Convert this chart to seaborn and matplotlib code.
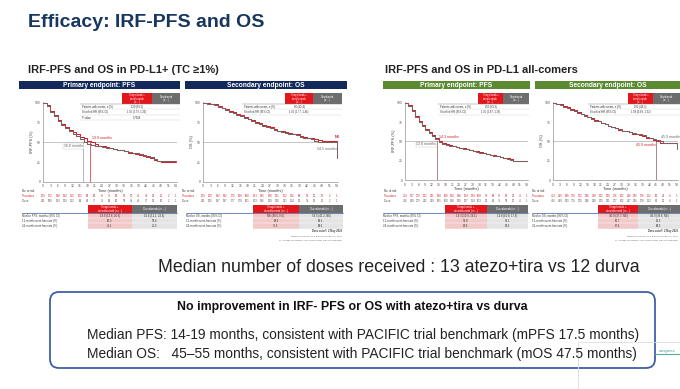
import numpy as np
import pandas as pd
import seaborn as sns
import matplotlib.pyplot as plt
from matplotlib.patches import Rectangle, FancyBboxPatch

sns.set_theme(style="white")
plt.rcParams["font.family"] = ["Liberation Sans", "DejaVu Sans"]
NARROW = ["Liberation Sans Narrow", "Liberation Sans", "DejaVu Sans"]

# KM estimates, every 1.5 months from 0 to 54
months = np.arange(0, 54.1, 1.5)
risk_months = np.arange(0, 55, 3)

l1_pfs_tira = [100, 97, 90, 84, 78, 73, 69, 66, 63, 60, 57, 55, 52, 50.5, 48, 46, 45, 44, 43,
               42, 41, 40, 39, 37, 36, 35, 34, 33, 32, 30, 28, 26, 25, 25, 25, 25, 25]
l1_pfs_durva = [100, 96, 89, 83, 77, 72, 68, 64, 61, 58, 54, 50.5, 48, 47, 46, 45, 44, 43, 42.5,
                42, 41, 40, 39, 38, 37, 36, 35, 34, 33, 31, 29, 27, 26, 26, 26, 26, 26]
l1_os_tira = [100, 100, 99, 98, 96, 94, 92, 90, 88, 86, 84, 82, 80, 78, 76, 74, 72, 71, 69,
              67, 65, 64, 63, 62, 61, 60, 58, 57, 56, 55, 54, 53, 52, 52, 52, 52, 52]
l1_os_durva = [100, 99, 98, 97, 95, 93, 91, 89, 87, 85, 83, 81, 79, 77, 75, 73, 71, 70, 68,
               66, 64, 63, 62, 61, 60, 59, 57, 56, 55, 54, 52, 51, 50, 50, 50, 50, 30]
all_pfs_tira = [100, 97, 90, 83, 76, 71, 66, 62, 58, 54.5, 50.5, 48, 46, 45, 44, 43, 42, 41, 40,
                39, 38, 37, 36, 35, 34, 33, 32, 31, 30, 29, 28, 27, 25, 25, 25, 25, 25]
all_pfs_durva = [100, 96, 89, 82, 75, 70, 65, 61, 57, 53, 49.5, 47, 45.5, 44.5, 43.5, 42.5, 41.5,
                 40.5, 39.5, 38.5, 37.5, 36.5, 35.5, 34.5, 33.5, 32.5, 31.5, 30.5, 29.5, 28, 27,
                 26, 25, 24, 24, 24, 24]
all_os_tira = [100, 99, 98, 96, 94, 92, 90, 88, 86, 84, 82, 80, 78, 76, 74, 72, 70, 68, 67,
               65, 64, 63, 62, 60, 59, 58, 57, 55, 54, 52, 50, 48, 48, 48, 47.5, 47.5, 47.5]
all_os_durva = [100, 99, 97, 95, 93, 91, 89, 87, 85, 83, 81, 79, 77, 76, 74, 72, 70, 69, 67,
                66, 64, 63, 62, 61, 60, 59, 58, 56, 55, 53, 52, 51, 48, 48, 48, 48, 40]

# medians (months): tira+atezo, durva
l1_pfs_medians = [19.3, 16.1]
l1_os_medians = [None, 54.5]
all_pfs_medians = [14.3, 14.3]
all_os_medians = [45.0, 45.0]

# numbers at risk (every 3 months)
l1_pfs_risk_tira = [203, 172, 146, 134, 119, 102, 88, 80, 76, 70, 62, 56, 50, 46, 40, 32, 11, 2, 1]
l1_pfs_risk_durva = [211, 180, 143, 129, 112, 96, 84, 77, 73, 68, 60, 53, 48, 44, 37, 29, 10, 2, 1]
l1_os_risk_tira = [203, 200, 192, 182, 175, 168, 160, 151, 145, 138, 131, 122, 116, 88, 56, 30, 12, 2, 1]
l1_os_risk_durva = [211, 206, 197, 187, 177, 170, 161, 153, 146, 139, 130, 121, 114, 86, 55, 29, 11, 2, 1]
all_pfs_risk_tira = [413, 357, 279, 251, 221, 190, 169, 156, 146, 134, 120, 108, 97, 88, 76, 61, 22, 4, 1]
all_pfs_risk_durva = [416, 349, 273, 242, 210, 181, 160, 148, 139, 127, 114, 103, 92, 84, 72, 58, 20, 4, 1]
all_os_risk_tira = [413, 405, 389, 370, 352, 336, 318, 302, 289, 276, 262, 246, 233, 176, 112, 60, 24, 4, 1]
all_os_risk_durva = [416, 409, 393, 374, 355, 338, 320, 305, 291, 277, 262, 247, 234, 178, 113, 61, 25, 4, 1]

RED = "#d42027"
GREY = "#7d5f5f"
NAVY = "#13295b"
GREEN = "#5b8a33"
W, H = 680, 389

fig = plt.figure(figsize=(W / 100, H / 100), dpi=100)
fig.patch.set_facecolor("white")


def frac(x0, y0, x1, y1):
    return [x0 / W, 1 - y1 / H, (x1 - x0) / W, (y1 - y0) / H]


def km_panel(rect, tira, durva, ylabel, medians):
    ax = fig.add_axes(frac(*rect))
    df = pd.DataFrame({
        "Time (months)": np.tile(months, 2),
        "surv": np.r_[tira, durva],
        "arm": ["Tira+atezo"] * len(months) + ["Durva"] * len(months),
    })
    ax.axhline(50, color="#999999", lw=0.4, zorder=1)
    for m, c in zip(medians, [RED, "#999999"]):
        if m is not None:
            ax.plot([m, m], [0, 50], color=c, lw=0.5, zorder=1)
    sns.lineplot(data=df, x="Time (months)", y="surv", hue="arm",
                 palette={"Tira+atezo": RED, "Durva": GREY}, drawstyle="steps-post",
                 lw=0.75, legend=False, estimator=None, ax=ax, zorder=3)
    ax.set_xlim(0, 54.5)
    ax.set_ylim(0, 101)
    ax.set_xticks(risk_months)
    ax.set_yticks([0, 25, 50, 75, 100])
    ax.tick_params(labelsize=2.4, length=1, width=0.3, pad=0.8, colors="#555555")
    ax.set_xlabel("Time (months)", fontsize=2.8, labelpad=0.5, color="#333333")
    ax.set_ylabel(ylabel, fontsize=2.8, labelpad=0.5, color="#333333")
    for s in ["top", "right"]:
        ax.spines[s].set_visible(False)
    for s in ["left", "bottom"]:
        ax.spines[s].set_linewidth(0.4)
        ax.spines[s].set_color("#777777")
    return ax


ax1 = km_panel((43, 102, 177, 182), l1_pfs_tira, l1_pfs_durva, "IRF-PFS (%)", l1_pfs_medians)
ax1.text(20, 54, "19.9 months", color=RED, fontsize=2.6)
ax1.text(8.5, 44, "16.6 months", color="#666666", fontsize=2.6,
         bbox=dict(fc="white", ec="#aaaaaa", lw=0.2, pad=0.4))
ax2 = km_panel((203, 102, 338, 182), l1_os_tira, l1_os_durva, "OS (%)", l1_os_medians)
ax2.text(53, 55, "NE", color=RED, fontsize=2.8, weight="bold")
ax2.text(46, 41, "54.5 months", color="#666666", fontsize=2.6)
ax3 = km_panel((405, 102, 528, 180), all_pfs_tira, all_pfs_durva, "IRF-PFS (%)", all_pfs_medians)
ax3.text(15, 55, "14.3 months", color=RED, fontsize=2.6)
ax3.text(5, 45, "13.8 months", color="#666666", fontsize=2.6,
         bbox=dict(fc="white", ec="#aaaaaa", lw=0.2, pad=0.4))
ax4 = km_panel((553, 102, 678, 180), all_os_tira, all_os_durva, "OS (%)", all_os_medians)
ax4.text(47, 55, "45.9 months", color="#666666", fontsize=2.6)
ax4.text(36, 44, "45.0 months", color=RED, fontsize=2.6)

# overlay in pixel coordinates for slide furniture
ov = fig.add_axes([0, 0, 1, 1], zorder=5)
ov.set_xlim(0, W)
ov.set_ylim(H, 0)
ov.axis("off")
ov.patch.set_alpha(0)

ov.text(28, 22, "Efficacy: IRF-PFS and OS", fontsize=14, weight="bold",
        color="#17375e", family=NARROW, va="center")
ov.text(28, 70, "IRF-PFS and OS in PD-L1+ (TC \u22651%)", fontsize=8, weight="bold",
        color="#222222", family=NARROW, va="center")
ov.text(385, 70, "IRF-PFS and OS in PD-L1 all-comers", fontsize=8, weight="bold",
        color="#222222", family=NARROW, va="center")

headers = [(19, 180, NAVY, "Primary endpoint: PFS"), (185, 347, NAVY, "Secondary endpoint: OS"),
           (383, 530, GREEN, "Primary endpoint: PFS"), (535, 684, GREEN, "Secondary endpoint: OS")]
for x0, x1, c, t in headers:
    ov.add_patch(Rectangle((x0, 81), x1 - x0, 8, fc=c, ec="none"))
    ov.text((x0 + min(x1, W)) / 2, 85, t, color="white", fontsize=4.8, weight="bold",
            ha="center", va="center")


def hr_table(x_left, xr0, xmid, xr1, rows, vals):
    ov.add_patch(Rectangle((xr0, 93), xmid - xr0, 11, fc="#e3161c", ec="none"))
    ov.add_patch(Rectangle((xmid, 93), xr1 - xmid, 11, fc="#6d6d6d", ec="none"))
    ov.text((xr0 + xmid) / 2, 98.5, "Tiragolumab +\natezolizumab\n(n=...)", color="white",
            fontsize=1.8, ha="center", va="center", linespacing=0.9)
    ov.text((xmid + xr1) / 2, 98.5, "Durvalumab\n(n=...)", color="white",
            fontsize=1.8, ha="center", va="center", linespacing=0.9)
    ov.plot([x_left, xr1], [104, 104], color="#777777", lw=0.3)
    for i, (r, v) in enumerate(zip(rows, vals)):
        y = 106.5 + i * 5.5
        ov.text(x_left + 2, y, r, fontsize=1.9, color="#333333", va="center")
        ov.text((xr0 + xmid) / 2, y, v, fontsize=1.9, color="#333333", va="center", ha="center")
        ov.plot([x_left, xr1], [y + 2.7, y + 2.7], color="#bbbbbb", lw=0.2)


hr_table(80, 122, 152, 180, ["Patients with events, n (%)", "Stratified HR (95% CI)", "P value"],
         ["120 (59.1)", "1.05 (0.79, 1.39)", "0.7308"])
hr_table(242, 285, 313, 342, ["Patients with events, n (%)", "Stratified HR (95% CI)"],
         ["86 (42.4)", "1.06 (0.77, 1.46)"])
hr_table(438, 478, 503, 529, ["Patients with events, n (%)", "Stratified HR (95% CI)"],
         ["253 (61.3)", "1.05 (0.87, 1.26)"])
hr_table(588, 628, 653, 680, ["Patients with events, n (%)", "Stratified HR (95% CI)"],
         ["183 (44.3)", "1.08 (0.88, 1.32)"])


def risk_rows(x0, x1, tira, durva):
    step = (x1 - x0) / 54.5
    ov.text(x0 - 21, 191, "No. at risk", fontsize=2, color="#333333", va="center")
    ov.text(x0 - 21, 196, "Tira+atezo", fontsize=2, color=RED, va="center")
    ov.text(x0 - 21, 201, "Durva", fontsize=2, color="#555555", va="center")
    for m, a, b in zip(risk_months, tira, durva):
        ov.text(x0 + m * step, 196, str(a), fontsize=2, color=RED, ha="center", va="center")
        ov.text(x0 + m * step, 201, str(b), fontsize=2, color="#555555", ha="center", va="center")


risk_rows(43, 177, l1_pfs_risk_tira, l1_pfs_risk_durva)
risk_rows(203, 338, l1_os_risk_tira, l1_os_risk_durva)
risk_rows(405, 528, all_pfs_risk_tira, all_pfs_risk_durva)
risk_rows(553, 678, all_os_risk_tira, all_os_risk_durva)


def bottom_table(x_left, xr0, xmid, xr1, first, vals_t, vals_d):
    ov.add_patch(Rectangle((xr0, 205), xmid - xr0, 8, fc="#e3161c", ec="none"))
    ov.add_patch(Rectangle((xmid, 205), xr1 - xmid, 8, fc="#6d6d6d", ec="none"))
    ov.text((xr0 + xmid) / 2, 209, "Tiragolumab +\natezolizumab (n=...)", color="white",
            fontsize=2, ha="center", va="center", linespacing=0.9)
    ov.text((xmid + xr1) / 2, 209, "Durvalumab (n=...)", color="white",
            fontsize=2, ha="center", va="center")
    ov.add_patch(Rectangle((xr0, 213), xmid - xr0, 16, fc="#f2c9c9", ec="none"))
    ov.add_patch(Rectangle((xmid, 213), xr1 - xmid, 16, fc="#e4e4e4", ec="none"))
    ov.plot([x_left, xr1], [213, 213], color="#3a5ba0", lw=0.5)
    labels = [first, "12-month event-free rate (%)", "24-month event-free rate (%)"]
    for i, (lab, a, b) in enumerate(zip(labels, vals_t, vals_d)):
        y = 215.5 + i * 5.3
        ov.text(x_left, y, lab, fontsize=2, color="#333333", va="center")
        ov.text((xr0 + xmid) / 2, y, a, fontsize=2, color="#333333", ha="center", va="center")
        ov.text((xmid + xr1) / 2, y, b, fontsize=2, color="#333333", ha="center", va="center")
        ov.plot([x_left, xr1], [y + 2.6, y + 2.6], color="white", lw=0.3)


bottom_table(22, 88, 132, 177, "Median PFS, months (95% CI)",
             ["19.9 (13.8, 26.5)", "60.5", "46.1"], ["16.6 (11.1, 23.4)", "58.4", "42.9"])
bottom_table(186, 253, 299, 343, "Median OS, months (95% CI)",
             ["NE (48.5, NE)", "89.6", "72.5"], ["54.5 (41.2, NE)", "88.1", "69.6"])
bottom_table(383, 445, 487, 528, "Median PFS, months (95% CI)",
             ["14.3 (10.9, 19.1)", "55.8", "38.9"], ["13.8 (10.8, 17.8)", "55.1", "38.6"])
bottom_table(532, 598, 638, 680, "Median OS, months (95% CI)",
             ["45.0 (37.7, NE)", "85.7", "67.4"], ["45.9 (38.8, NE)", "86.3", "68.9"])

for xr in [342, 678]:
    ov.text(xr, 232, "Data cutoff: 2 May 2025", fontsize=2, color="#444444", ha="right", weight="bold")
    ov.text(xr, 236.5, "Median follow-up: 37.5 months (range 0.0, 56.5)", fontsize=1.7,
            color="#666666", ha="right")
    ov.text(xr, 240.5, "CI, confidence interval; HR, hazard ratio; NE, not estimable",
            fontsize=1.7, color="#666666", ha="right")

ov.text(399, 267, "Median number of doses received : 13 atezo+tira vs 12 durva", fontsize=12.8,
        color="#222222", ha="center", va="center")

ov.plot([578, 578], [342, H], color="#dddddd", lw=0.6)
ov.plot([578, W], [342, 342], color="#dddddd", lw=0.6)
ov.add_patch(FancyBboxPatch((50, 292), 605, 76, boxstyle="round,pad=0,rounding_size=9",
                            fc="white", ec="#3e5fa8", lw=1.3))
ov.plot([655, W], [354, 354], color="#4ab0a0", lw=0.8)
ov.text(659, 353, "congress", fontsize=3, color="#3f9d8f", va="bottom")
ov.text(352, 307, "No improvement in IRF- PFS or OS with atezo+tira vs durva", fontsize=8.9,
        weight="bold", color="#111111", ha="center", va="center")
ov.text(87, 335, "Median PFS: 14-19 months, consistent with PACIFIC trial benchmark (mPFS 17.5 months)",
        fontsize=9.9, color="#222222", va="center")
ov.text(87, 354, "Median OS:   45\u201355 months, consistent with PACIFIC trial benchmark (mOS 47.5 months)",
        fontsize=9.9, color="#222222", va="center")

fig.savefig("out.png", dpi=100, facecolor="white")
